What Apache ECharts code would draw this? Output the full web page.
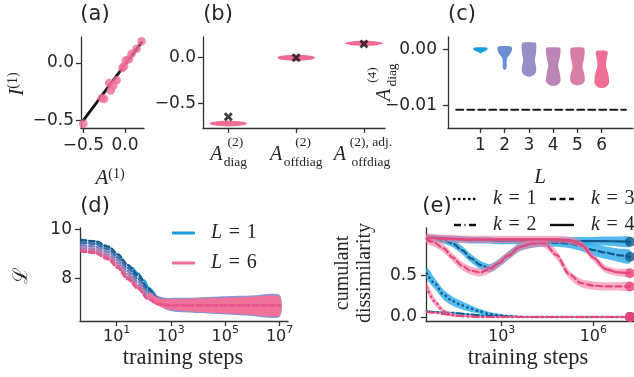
<!DOCTYPE html>
<html><head><meta charset="utf-8">
<script src="https://cdn.jsdelivr.net/npm/echarts@6/dist/echarts.min.js"></script>
<style>html,body{margin:0;padding:0;background:#fff}#c{width:634px;height:377px}</style>
</head><body><div id="c"></div>
<script>
// ---------- (a) ----------
const aX = [-0.50,-0.28,-0.25,-0.19,-0.17,-0.14,-0.10,-0.03,-0.01,0.01,0.05,0.08,0.14,0.20];
const aY = [-0.53,-0.305,-0.314,-0.174,-0.239,-0.198,-0.151,-0.044,-0.029,0.023,0.035,0.081,0.125,0.189];
const aFitX = [-0.50, 0.20];
const aFitY = [-0.50, 0.18];
const aTicks = [-0.5, 0.0];
// ---------- (b) ----------
const bPos = [0, 1, 2];
const bViolin = [-0.72, 0.0, 0.157];
const bSpread = [0.033, 0.036, 0.03];
const bMarker = [-0.645, 0.0, 0.15];
const bProfOff = [1, 0.6, 0, -0.6, -1];
const bProfD = [0, 0.75, 1, 0.75, 0];
const bTicks = [-0.5, 0.0];
// ---------- (c) ----------
const cL = [1, 2, 3, 4, 5, 6];
const cViolinY = [
  [0.0003, 0.0001, -0.0001, -0.0003, -0.0005, -0.0007],
  [0.0005, 0.0002, -0.0004, -0.0009, -0.0014, -0.0018, -0.0025, -0.0032, -0.0036],
  [0.0012, 0.0008, 0.0000, -0.0010, -0.0019, -0.0028, -0.0036, -0.0043, -0.0048],
  [0.0003, 0.0000, -0.0010, -0.0020, -0.0028, -0.0038, -0.0048, -0.0058, -0.0064],
  [0.0003, 0.0000, -0.0010, -0.0022, -0.0031, -0.0040, -0.0049, -0.0058, -0.0063],
  [-0.0003, -0.0006, -0.0015, -0.0025, -0.0033, -0.0042, -0.0052, -0.0062, -0.0068]
];
const cViolinD = [
  [0.8, 1.0, 0.93, 0.67, 0.33, 0.07],
  [0.87, 1.0, 0.93, 0.73, 0.4, 0.29, 0.27, 0.27, 0.13],
  [0.86, 1.0, 1.0, 0.93, 0.79, 0.93, 1.0, 0.86, 0.29],
  [0.89, 1.0, 0.96, 0.82, 0.68, 0.82, 0.96, 0.96, 0.41],
  [0.77, 0.97, 0.97, 0.8, 0.69, 0.85, 1.0, 0.92, 0.38],
  [0.71, 0.83, 0.71, 0.6, 0.64, 0.86, 1.0, 0.93, 0.36]
];
const cRefX = [0, 7];
const cRefY = [-0.0107, -0.0107];
const cTicksY = [-0.01, 0.0];
// ---------- (d) ----------
const dX = [-0.3, 0.2, 0.7, 1.05, 1.4, 1.8, 2.15, 2.5, 2.9, 3.5, 4.5, 5.5, 6.5, 7.0];
const dL1 = [9.58, 9.52, 9.30, 8.98, 8.55, 8.12, 7.58, 7.18, 6.97, 6.93, 6.93, 6.93, 6.93, 6.93];
const dL2 = [9.48, 9.42, 9.19, 8.86, 8.43, 7.98, 7.46, 7.09, 6.95, 6.92, 6.92, 6.92, 6.92, 6.92];
const dL3 = [9.37, 9.31, 9.08, 8.74, 8.30, 7.85, 7.36, 7.04, 6.93, 6.91, 6.91, 6.91, 6.91, 6.91];
const dL4 = [9.28, 9.21, 8.97, 8.62, 8.17, 7.73, 7.28, 7.00, 6.92, 6.90, 6.90, 6.90, 6.90, 6.90];
const dL5 = [9.19, 9.12, 8.87, 8.51, 8.06, 7.64, 7.21, 6.97, 6.91, 6.90, 6.90, 6.90, 6.90, 6.90];
const dL6 = [9.12, 9.05, 8.78, 8.42, 7.98, 7.57, 7.16, 6.95, 6.90, 6.89, 6.89, 6.89, 6.89, 6.89];
const dSolidX = [1.6, 1.8, 2.0, 2.2, 2.4];
const dSolidL1 = [8.42, 8.2, 7.92, 7.6, 7.38];
const dBandX = [2.2, 2.5, 2.8, 3.2, 4.0, 5.0, 6.0, 7.0];
const dBandBlueLo = [7.35, 6.95, 6.72, 6.62, 6.58, 6.52, 6.46, 6.42];
const dBandBlueHi = [7.6, 7.3, 7.2, 7.2, 7.22, 7.27, 7.3, 7.32];
const dBandPinkLo = [7.2, 6.9, 6.75, 6.68, 6.62, 6.56, 6.5, 6.47];
const dBandPinkHi = [7.45, 7.22, 7.15, 7.15, 7.18, 7.22, 7.25, 7.26];
const dTicksX = [1, 3, 5, 7];
const dTicksY = [8, 10];
// ---------- (e) ----------
const eX = [0.55, 0.8, 1.1, 1.4, 1.7, 2.0, 2.3, 2.6, 2.9, 3.2, 3.6, 4.0, 4.4, 4.8, 5.2, 5.6, 6.0, 6.4, 6.8, 7.2];
const eBlueK1 = [0.53, 0.41, 0.27, 0.19, 0.14, 0.10, 0.065, 0.035, 0.02, 0.01, 0.003, 0, 0, 0, 0, 0, 0, 0, 0, 0];
const eBlueK1Sd = [0.07, 0.065, 0.06, 0.055, 0.05, 0.04, 0.03, 0.025, 0.02, 0.015, 0.01, 0.008, 0.008, 0.008, 0.008, 0.008, 0.008, 0.008, 0.008, 0.008];
const eBlueK2 = [0.065, 0.06, 0.055, 0.05, 0.04, 0.03, 0.02, 0.012, 0.006, 0.003, 0, 0, 0, 0, 0, 0, 0, 0, 0, 0];
const eBlueK2Sd = [0.012, 0.012, 0.012, 0.012, 0.012, 0.012, 0.012, 0.01, 0.01, 0.008, 0.008, 0.008, 0.008, 0.008, 0.008, 0.008, 0.008, 0.008, 0.008, 0.008];
const eBlueK3 = [0.95, 0.95, 0.93, 0.89, 0.81, 0.71, 0.63, 0.59, 0.65, 0.74, 0.85, 0.89, 0.90, 0.90, 0.89, 0.86, 0.81, 0.78, 0.75, 0.73];
const eBlueK3Sd = [0.04, 0.04, 0.04, 0.045, 0.05, 0.05, 0.05, 0.05, 0.05, 0.05, 0.05, 0.05, 0.05, 0.05, 0.055, 0.06, 0.07, 0.075, 0.08, 0.08];
const eBlueK4 = [0.95, 0.95, 0.95, 0.94, 0.94, 0.93, 0.93, 0.93, 0.92, 0.92, 0.92, 0.92, 0.92, 0.92, 0.92, 0.92, 0.92, 0.92, 0.915, 0.91];
const eBlueK4Sd = [0.04, 0.04, 0.04, 0.04, 0.04, 0.04, 0.04, 0.04, 0.04, 0.04, 0.04, 0.04, 0.04, 0.04, 0.045, 0.05, 0.05, 0.055, 0.06, 0.06];
const ePinkK1 = [0.36, 0.19, 0.07, 0.025, 0.01, 0.005, 0, 0, 0, 0, 0, 0, 0, 0, 0, 0, 0, 0, 0, 0];
const ePinkK1Sd = [0.05, 0.045, 0.03, 0.02, 0.012, 0.01, 0.008, 0.008, 0.008, 0.008, 0.008, 0.008, 0.008, 0.008, 0.008, 0.008, 0.008, 0.008, 0.008, 0.008];
const ePinkK2 = [0.06, 0.05, 0.035, 0.02, 0.01, 0.005, 0, 0, 0, 0, 0, 0, 0, 0, 0, 0, 0, 0, 0, 0];
const ePinkK2Sd = [0.01, 0.01, 0.01, 0.01, 0.01, 0.01, 0.008, 0.008, 0.008, 0.008, 0.008, 0.008, 0.008, 0.008, 0.008, 0.008, 0.008, 0.008, 0.008, 0.008];
const ePinkK3 = [0.94, 0.90, 0.83, 0.72, 0.62, 0.56, 0.54, 0.58, 0.65, 0.74, 0.85, 0.89, 0.89, 0.75, 0.52, 0.41, 0.38, 0.37, 0.37, 0.37];
const ePinkK3Sd = [0.05, 0.05, 0.05, 0.05, 0.05, 0.05, 0.05, 0.05, 0.05, 0.05, 0.05, 0.05, 0.05, 0.05, 0.05, 0.05, 0.05, 0.05, 0.05, 0.05];
const ePinkK4 = [0.96, 0.96, 0.95, 0.95, 0.94, 0.94, 0.94, 0.94, 0.94, 0.94, 0.94, 0.94, 0.94, 0.94, 0.93, 0.88, 0.72, 0.58, 0.54, 0.53];
const ePinkK4Sd = [0.045, 0.045, 0.045, 0.045, 0.045, 0.045, 0.045, 0.045, 0.045, 0.045, 0.045, 0.045, 0.045, 0.045, 0.045, 0.045, 0.045, 0.045, 0.045, 0.045];
const eTicksX = [3, 6];
const eTicksY = [0.0, 0.5];

// ---------- styles ----------
const TXT = '#262626', AX = '#333333';
const SERIF = 'Liberation Serif', SANS = 'DejaVu Sans';
const PINK = '#f06c95';
const cColors = ['#129ee0', '#6a8fd2', '#9b8bc6', '#bb86b6', '#d67ea8', '#f06e96'];
const dColors = ['#145d86', '#3b70b0', '#7d84c4', '#a780b6', '#c9729f', '#e6548a'];
const NAVY = '#0f5a8a', PLINE = '#e8457c';
const BLUEBAND = 'rgba(40,170,235,0.8)', PINKBAND = 'rgba(243,128,163,0.62)';
const TICKFS = 17;

const fmt1 = v => (Math.abs(v) < 1e-9 ? 0 : v).toFixed(1).replace('-', '\u2212');
const fmt2 = v => (Math.abs(v) < 1e-9 ? 0 : v).toFixed(2).replace('-', '\u2212');

function valAxis(gi, min, max, vals, fmt, margin, rich) {
  const lab = {customValues: vals, formatter: fmt, color: TXT, fontFamily: SANS, fontSize: TICKFS, margin: margin};
  if (rich) lab.rich = rich;
  return {
    type: 'value', gridIndex: gi, min: min, max: max,
    axisLine: {show: true, onZero: false, lineStyle: {color: AX, width: 1.3}},
    axisTick: {show: true, length: 5, customValues: vals, lineStyle: {color: AX, width: 1.3}},
    axisLabel: lab,
    splitLine: {show: false}
  };
}

const powRich = {
  b: {fontFamily: SANS, fontSize: 16, color: TXT, lineHeight: 20, verticalAlign: 'bottom'},
  s: {fontFamily: SANS, fontSize: 11, color: TXT, lineHeight: 11, verticalAlign: 'top'}
};
const powFmt = v => '{b|10}{s|' + v + '}';

const mA = {fontFamily: SERIF, fontStyle: 'italic', fontSize: 20, color: TXT, lineHeight: 16, verticalAlign: 'top', width: 14};
function subSup(w) {
  return {
    sup: {fontFamily: SERIF, fontSize: 13.5, color: TXT, lineHeight: 10, verticalAlign: 'top', width: w, align: 'left'},
    sub: {fontFamily: SERIF, fontSize: 13.5, color: TXT, lineHeight: 20, verticalAlign: 'bottom', width: w, align: 'left'}
  };
}
const bRich = {
  A: mA, sp: {width: 14, lineHeight: 10},
  sup0: subSup(24).sup, sub0: subSup(24).sub,
  sup1: subSup(40).sup, sub1: subSup(40).sub,
  sup2: subSup(48).sup, sub2: subSup(48).sub,
  line2: {lineHeight: 24}
};
const bSub = ['diag', 'offdiag', 'offdiag'];
const bSup = ['(2)', '(2)', '(2), adj.'];
const bFmt = v => {
  const i = Math.round(v);
  return '{sp|}{sup' + i + '|' + bSup[i] + '}\n{A|A}{sub' + i + '|' + bSub[i] + '}{line2|}';
};

const grids = [
  {left: 81, top: 37, width: 63, height: 91},
  {left: 203, top: 37, width: 182, height: 91},
  {left: 448, top: 37, width: 185, height: 91},
  {left: 80, top: 228, width: 208, height: 93},
  {left: 426, top: 228, width: 208, height: 93}
];

const xAxes = [
  valAxis(0, -0.528, 0.229, aTicks, fmt1, 9),
  valAxis(1, -0.373, 2.31, bPos, bFmt, 7, bRich),
  valAxis(2, -0.34, 7.29, cL, v => String(v), 9),
  valAxis(3, -0.35, 7.31, dTicksX, powFmt, 4, powRich),
  valAxis(4, 0.523, 7.33, eTicksX, powFmt, 4, powRich)
];
const yAxes = [
  valAxis(0, -0.567, 0.227, aTicks, fmt1, 7),
  valAxis(1, -0.769, 0.226, bTicks, fmt1, 7),
  valAxis(2, -0.01394, 0.00217, cTicksY, fmt2, 11),
  valAxis(3, 6.25, 10.07, dTicksY, v => String(v), 8),
  valAxis(4, -0.049, 1.078, eTicksY, fmt1, 9)
];

function bandSeries(gi, xs, lo, hi, color, z) {
  return {
    type: 'custom', xAxisIndex: gi, yAxisIndex: gi, z: z, silent: true,
    data: xs.map((x, i) => [x, lo[i], hi[i]]),
    renderItem: function (params, api) {
      if (params.dataIndex !== 0) return null;
      const pts = [];
      for (let i = 0; i < xs.length; i++) pts.push(api.coord([xs[i], hi[i]]));
      for (let i = xs.length - 1; i >= 0; i--) pts.push(api.coord([xs[i], lo[i]]));
      return {type: 'polygon', shape: {points: pts, smooth: 0.25}, style: {fill: color}};
    }
  };
}
function sdBand(gi, xs, m, sd, color, z) {
  return bandSeries(gi, xs, m.map((v, i) => v - sd[i]), m.map((v, i) => v + sd[i]), color, z);
}
function lineS(gi, xs, ys, color, width, type, z, smooth) {
  return {
    type: 'line', xAxisIndex: gi, yAxisIndex: gi, z: z, silent: true,
    data: xs.map((x, i) => [x, ys[i]]), showSymbol: false, symbol: 'none',
    smooth: smooth === undefined ? 0.3 : smooth, smoothMonotone: 'x',
    lineStyle: {color: color, width: width, type: type, cap: 'round'}
  };
}

const series = [];
// (a)
series.push(lineS(0, aFitX, aFitY, '#111', 2.8, 'solid', 2, false));
series.push({type: 'scatter', xAxisIndex: 0, yAxisIndex: 0, z: 3, symbolSize: 8.5,
  itemStyle: {color: PINK}, data: aX.map((x, i) => [x, aY[i]])});
// (b)
series.push({
  type: 'custom', xAxisIndex: 1, yAxisIndex: 1, z: 2,
  data: bPos.map((p, i) => [p, bViolin[i]]),
  renderItem: function (params, api) {
    const i = params.dataIndex, x = api.value(0), y = api.value(1);
    const pts = [];
    bProfOff.forEach((o, j) => pts.push(api.coord([x + bProfD[j] * 0.28, y + o * bSpread[i]])));
    for (let j = bProfOff.length - 1; j >= 0; j--) pts.push(api.coord([x - bProfD[j] * 0.28, y + bProfOff[j] * bSpread[i]]));
    return {type: 'polygon', shape: {points: pts, smooth: 0.4}, style: {fill: PINK}};
  }
});
series.push({type: 'scatter', xAxisIndex: 1, yAxisIndex: 1, z: 3, symbolSize: 9,
  symbol: 'path://M0,2.2L2.2,0L5,2.8L7.8,0L10,2.2L7.2,5L10,7.8L7.8,10L5,7.2L2.2,10L0,7.8L2.8,5Z',
  itemStyle: {color: '#111'}, data: bPos.map((p, i) => [p, bMarker[i]])});
// (c)
series.push({
  type: 'custom', xAxisIndex: 2, yAxisIndex: 2, z: 2,
  data: cL.map((L, i) => [L, i]),
  renderItem: function (params, api) {
    const i = params.dataIndex, x = api.value(0);
    const ys = cViolinY[i], ds = cViolinD[i];
    const pts = [];
    ys.forEach((y, j) => pts.push(api.coord([x + ds[j] * 0.3, y])));
    for (let j = ys.length - 1; j >= 0; j--) pts.push(api.coord([x - ds[j] * 0.3, ys[j]]));
    return {type: 'polygon', shape: {points: pts, smooth: 0.35}, style: {fill: cColors[i]}};
  }
});
series.push(lineS(2, cRefX, cRefY, '#1a1a1a', 2, [7, 4], 3, false));
// (d)
series.push(bandSeries(3, dBandX, dBandBlueLo, dBandBlueHi, '#7e98dc', 1));
series.push(lineS(3, dSolidX, dSolidL1, '#1a9be0', 2, 'solid', 1));
[dL1, dL2, dL3, dL4, dL5].forEach((arr, i) => series.push(lineS(3, dX, arr, dColors[i], 2.6, [5, 3], 2)));
series.push(bandSeries(3, dBandX, dBandPinkLo, dBandPinkHi, '#f0719a', 3));
series.push(lineS(3, dX, dL6, dColors[5], 2.6, [5, 3], 4));
// (e)
const dotT = [0.5, 4.5], dashT = [6, 3.5], dashDotT = [7, 3.5, 1, 3.5];
series.push(sdBand(4, eX, eBlueK1, eBlueK1Sd, BLUEBAND, 1));
series.push(sdBand(4, eX, eBlueK2, eBlueK2Sd, BLUEBAND, 1));
series.push(sdBand(4, eX, eBlueK3, eBlueK3Sd, BLUEBAND, 1));
series.push(sdBand(4, eX, eBlueK4, eBlueK4Sd, BLUEBAND, 1));
series.push(lineS(4, eX, eBlueK1, NAVY, 2.4, dotT, 2));
series.push(lineS(4, eX, eBlueK2, NAVY, 2, dashDotT, 2));
series.push(lineS(4, eX, eBlueK3, NAVY, 2.2, dashT, 2));
series.push(lineS(4, eX, eBlueK4, NAVY, 2.2, 'solid', 2));
series.push(sdBand(4, eX, ePinkK1, ePinkK1Sd, PINKBAND, 3));
series.push(sdBand(4, eX, ePinkK2, ePinkK2Sd, PINKBAND, 3));
series.push(sdBand(4, eX, ePinkK3, ePinkK3Sd, PINKBAND, 3));
series.push(sdBand(4, eX, ePinkK4, ePinkK4Sd, PINKBAND, 3));
series.push(lineS(4, eX, ePinkK1, PLINE, 2.4, dotT, 4));
series.push(lineS(4, eX, ePinkK2, PLINE, 2, dashDotT, 4));
series.push(lineS(4, eX, ePinkK3, PLINE, 2.2, dashT, 4));
series.push(lineS(4, eX, ePinkK4, PLINE, 2.2, 'solid', 4));
const last = eX.length - 1;
series.push({type: 'scatter', xAxisIndex: 4, yAxisIndex: 4, z: 5, symbolSize: 10, clip: false,
  itemStyle: {color: NAVY},
  data: [eBlueK1, eBlueK2, eBlueK3, eBlueK4].map(a => [eX[last], a[last]])});
series.push({type: 'scatter', xAxisIndex: 4, yAxisIndex: 4, z: 6, symbolSize: 10, clip: false,
  itemStyle: {color: PLINE},
  data: [ePinkK1, ePinkK2, ePinkK3, ePinkK4].map(a => [eX[last], a[last]])});

// ---------- text (titles, axis titles, legends) ----------
function txt(x, y, text, opts) {
  return Object.assign({type: 'text', x: x, y: y, z: 100, silent: true,
    style: Object.assign({text: text, fill: TXT, align: 'center', verticalAlign: 'middle',
      fontFamily: SANS, fontSize: 21}, opts && opts.style)}, opts && opts.el);
}
const mathRich = {
  i: {fontFamily: SERIF, fontStyle: 'italic', fontSize: 21, color: TXT},
  s: {fontFamily: SERIF, fontSize: 14, color: TXT, verticalAlign: 'top', lineHeight: 12},
  n: {fontFamily: SERIF, fontSize: 21, color: TXT}
};
const legRich = {
  i: {fontFamily: SERIF, fontStyle: 'italic', fontSize: 20, color: TXT},
  n: {fontFamily: SERIF, fontSize: 20, color: TXT}
};
const EQ = '\u2004=\u2004';
const ROT = Math.PI / 2;
const graphics = [
  txt(95, 15, '(a)'), txt(218, 15, '(b)'), txt(462, 15, '(c)'),
  txt(95, 207, '(d)'), txt(437, 207, '(e)'),
  txt(17, 84, '{i|I}{s|(1)}', {style: {rich: mathRich}, el: {rotation: ROT}}),
  txt(110, 178, '{i|A}{s|(1)}', {style: {rich: mathRich}}),
  txt(382, 82, '{sp|}{sup|(4)}\n{A|A}{sub|diag}{line2|}', {style: {rich: {
    A: mA, sp: {width: 14, lineHeight: 10}, sup: subSup(26).sup, sub: subSup(26).sub, line2: {lineHeight: 24}}}, el: {rotation: ROT}}),
  txt(540, 177, '{i|L}', {style: {rich: mathRich}}),
  txt(22, 275, '\u2112', {style: {fontFamily: 'DejaVu Serif', fontSize: 20}, el: {rotation: ROT}}),
  txt(183, 358, 'training steps', {style: {fontFamily: SERIF, fontSize: 22.5}}),
  txt(528, 358, 'training steps', {style: {fontFamily: SERIF, fontSize: 22.5}}),
  txt(354, 273, 'cumulant\ndissimilarity', {style: {fontFamily: SERIF, fontSize: 20, lineHeight: 22}, el: {rotation: ROT}}),
  // (d) legend
  {type: 'line', z: 100, shape: {x1: 172, y1: 233, x2: 195, y2: 233}, style: {stroke: '#1a9be0', lineWidth: 3}},
  {type: 'line', z: 100, shape: {x1: 172, y1: 263, x2: 195, y2: 263}, style: {stroke: '#f27098', lineWidth: 3}},
  txt(211, 233, '{i|L}{n|' + EQ + '1}', {style: {rich: legRich, align: 'left'}}),
  txt(211, 263, '{i|L}{n|' + EQ + '6}', {style: {rich: legRich, align: 'left'}}),
  // (e) legend
  {type: 'line', z: 100, shape: {x1: 454, y1: 199, x2: 478, y2: 199}, style: {stroke: '#111', lineWidth: 2.4, lineDash: dotT, lineCap: 'round'}},
  {type: 'line', z: 100, shape: {x1: 550, y1: 199, x2: 574, y2: 199}, style: {stroke: '#111', lineWidth: 2.4, lineDash: dashT}},
  {type: 'line', z: 100, shape: {x1: 454, y1: 225, x2: 478, y2: 225}, style: {stroke: '#111', lineWidth: 2.4, lineDash: dashDotT}},
  {type: 'line', z: 100, shape: {x1: 550, y1: 225, x2: 574, y2: 225}, style: {stroke: '#111', lineWidth: 2.4}},
  txt(493, 199, '{i|k}{n|' + EQ + '1}', {style: {rich: legRich, align: 'left'}}),
  txt(591, 199, '{i|k}{n|' + EQ + '3}', {style: {rich: legRich, align: 'left'}}),
  txt(493, 225, '{i|k}{n|' + EQ + '2}', {style: {rich: legRich, align: 'left'}}),
  txt(591, 225, '{i|k}{n|' + EQ + '4}', {style: {rich: legRich, align: 'left'}})
];

const chart = echarts.init(document.getElementById('c'), null, {renderer: 'canvas'});
chart.setOption({
  animation: false,
  backgroundColor: '#ffffff',
  grid: grids,
  xAxis: xAxes,
  yAxis: yAxes,
  series: series,
  graphic: graphics
});
</script></body></html>
